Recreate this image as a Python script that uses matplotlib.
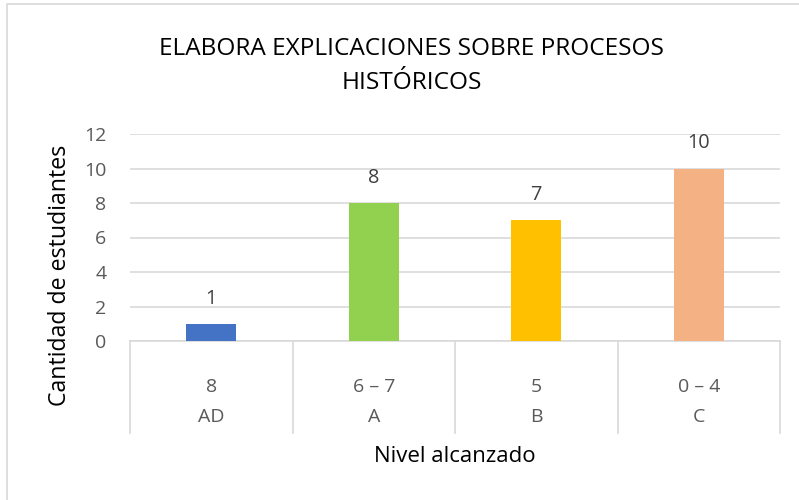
import matplotlib.pyplot as plt
from matplotlib.patches import Rectangle
from matplotlib.lines import Line2D

# Datos
niveles = ['AD', 'A', 'B', 'C']
rangos = ['8', '6 – 7', '5', '0 – 4']
estudiantes = [1, 8, 7, 10]
colores = ['#4472C4', '#92D050', '#FFC000', '#F4B183']

plt.rcParams['font.family'] = ['Open Sans', 'DejaVu Sans']

fig = plt.figure(figsize=(7.99, 5), dpi=100)
ax = fig.add_axes([130 / 799, 1 - 341 / 500, 650 / 799, 207 / 500])

x = list(range(len(niveles)))
bars = ax.bar(x, estudiantes, width=0.31, color=colores, zorder=3)
for b, v in zip(bars, estudiantes):
    ax.text(b.get_x() + b.get_width() / 2, v + 1.45, str(v), ha='center', va='center',
            fontsize=14.3, color='#404040')

ax.set_xlim(-0.5, len(niveles) - 0.5)
ax.set_ylim(0, 12)
ax.set_yticks(range(0, 13, 2))
ax.tick_params(axis='y', length=0, labelsize=14, labelcolor='#595959', pad=17)
ax.set_xticks([])
ax.grid(axis='y', color='#D9D9D9', linewidth=1.2, zorder=0)
for s in ['top', 'right', 'left']:
    ax.spines[s].set_visible(False)
ax.spines['bottom'].set_color('#D9D9D9')
ax.spines['bottom'].set_linewidth(1.2)

# Etiquetas de dos niveles
trans = ax.get_xaxis_transform()
for i in range(len(niveles) + 1):
    ax.add_line(Line2D([i - 0.5, i - 0.5], [0, -0.444], transform=trans,
                       color='#D9D9D9', linewidth=1.2, clip_on=False))
for i, (r, n) in enumerate(zip(rangos, niveles)):
    ax.text(i, -0.222, r, transform=trans, ha='center', va='center',
            fontsize=14, color='#595959')
    ax.text(i, -0.367, n, transform=trans, ha='center', va='center',
            fontsize=14, color='#595959')

ax.text(0.5, -0.56, 'Nivel alcanzado', transform=ax.transAxes, ha='center',
        va='center', fontsize=16, color='black')
fig.text(60 / 799, 1 - 275 / 500, 'Cantidad de estudiantes', rotation=90,
         ha='center', va='center', fontsize=16.7, color='black')

fig.text(0.515, 1 - 66 / 500, 'ELABORA EXPLICACIONES SOBRE PROCESOS\nHISTÓRICOS',
         ha='center', va='center', fontsize=17.6, color='black', linespacing=1.6)

fig.patches.append(Rectangle((7 / 799, -0.1), 1.1, 1 - 3.5 / 500 + 0.1,
                             transform=fig.transFigure, fill=False,
                             edgecolor='#D9D9D9', linewidth=1.2))

fig.savefig('out.png', dpi=100)
